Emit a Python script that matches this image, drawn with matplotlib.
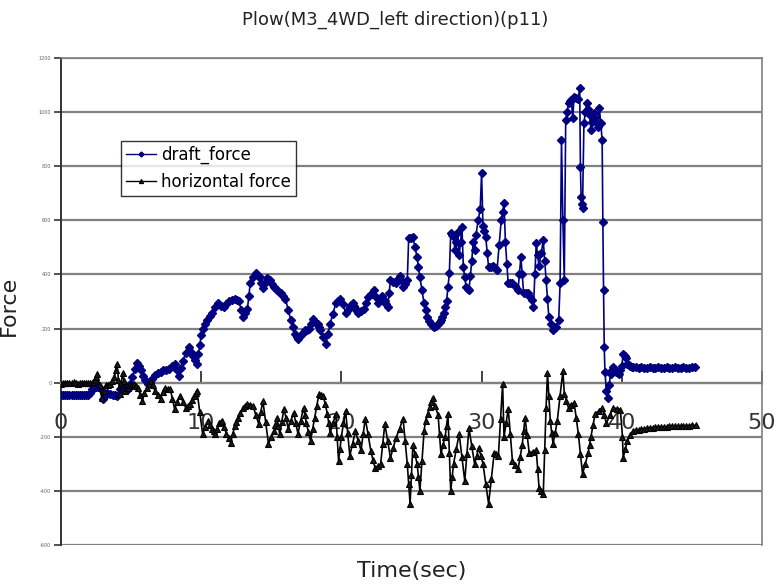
import matplotlib
matplotlib.use("Agg")
import matplotlib.pyplot as plt

# draft force (time in s, force)
draft_t = [0.0, 0.15, 0.3, 0.45, 0.6, 0.75, 0.9, 1.05, 1.2, 1.35, 1.5, 1.65, 1.8,
           1.95, 2.1, 2.2, 2.35, 2.5, 2.65, 2.8, 3.0, 3.15, 3.3, 3.5,
           3.7, 3.85, 4.0, 4.2, 4.35, 4.5, 4.65, 4.8, 4.95, 5.1, 5.25, 5.4, 5.55,
           5.7, 5.85, 6.0, 6.2, 6.35, 6.5, 6.7, 6.9, 7.1, 7.3, 7.5, 7.7, 7.9,
           8.1, 8.25, 8.4, 8.55, 8.7, 8.9, 9.1, 9.25, 9.4, 9.55, 9.7, 9.8, 9.9,
           10.0, 10.1, 10.25, 10.4, 10.6, 10.8, 11.0, 11.2, 11.4, 11.6, 11.8, 12.0,
           12.2, 12.4, 12.55, 12.7, 12.85, 13.0, 13.15, 13.3, 13.4, 13.5, 13.7,
           13.9, 14.05, 14.2, 14.3, 14.4, 14.55, 14.7, 14.8, 14.9, 15.05, 15.2,
           15.3, 15.4, 15.55, 15.7, 15.85, 16.0, 16.2, 16.4, 16.55, 16.7, 16.8,
           16.9, 17.05, 17.2, 17.3, 17.4, 17.55, 17.7, 17.85, 18.0, 18.15, 18.3,
           18.4, 18.5, 18.7, 18.9, 19.05, 19.2, 19.4, 19.6, 19.75, 19.9, 20.1,
           20.3, 20.45, 20.6, 20.7, 20.8, 20.9, 21.0, 21.1, 21.2, 21.4, 21.6,
           21.75, 21.9, 22.1, 22.3, 22.45, 22.6, 22.75, 22.9, 23.0, 23.1, 23.2,
           23.3, 23.4, 23.5, 23.7, 23.9, 24.05, 24.2, 24.3, 24.4, 24.55, 24.7,
           24.8, 24.95, 25.1, 25.25, 25.4, 25.5, 25.6, 25.75, 25.9, 26.0, 26.1,
           26.25, 26.4, 26.5, 26.6, 26.75, 26.9, 27.0, 27.1, 27.2, 27.3, 27.4,
           27.5, 27.6, 27.7, 27.8, 27.9, 28.0, 28.1, 28.2, 28.3, 28.4, 28.5, 28.6,
           28.7, 28.8, 28.9, 29.0, 29.1, 29.2, 29.3, 29.4, 29.5, 29.6, 29.75, 29.9,
           30.0, 30.1, 30.2, 30.3, 30.4, 30.5, 30.65, 30.8, 30.95, 31.1, 31.25,
           31.4, 31.5, 31.6, 31.7, 31.8, 31.9, 32.05, 32.2, 32.4, 32.6, 32.7, 32.8,
           32.9, 33.0, 33.15, 33.3, 33.45, 33.6, 33.7, 33.8, 33.9, 34.0, 34.1,
           34.25, 34.4, 34.5, 34.6, 34.7, 34.8, 34.95, 35.1, 35.3, 35.5, 35.6,
           35.7, 35.8, 35.9, 36.0, 36.1, 36.2, 36.3, 36.4, 36.5, 36.6, 36.75, 36.9,
           37.0, 37.05, 37.1, 37.15, 37.2, 37.3, 37.4, 37.5, 37.6, 37.7, 37.8,
           37.9, 38.0, 38.1, 38.2, 38.3, 38.4, 38.5, 38.6, 38.65, 38.7, 38.75,
           38.8, 38.9, 39.0, 39.1, 39.2, 39.3, 39.4, 39.5, 39.6, 39.7, 39.8, 39.9,
           40.0, 40.1, 40.2, 40.3, 40.4, 40.5, 40.6, 40.7, 40.8, 41.0, 41.2, 41.4,
           41.6, 41.8, 42.0, 42.2, 42.4, 42.6, 42.8, 43.0, 43.2, 43.4, 43.6, 43.8,
           44.0, 44.2, 44.4, 44.6, 44.8, 45.0, 45.2]
draft_f = [-44, -44, -44, -44, -44, -44, -44, -44, -44, -44, -44, -44, -44,
           -44, -40, -25, -18, -15, -17, -20, -59, -50, -40, -43,
           -45, -47, -48, -25, -22, -20, -22, -25, -5, 20, 50, 74, 60,
           45, 25, 10, -4, 5, 15, 28, 37, 40, 45, 48, 52, 60,
           70, 45, 26, 55, 80, 110, 130, 115, 100, 85, 70, 105, 140,
           175, 200, 218, 230, 245, 259, 280, 293, 285, 278, 290, 300,
           305, 311, 306, 300, 270, 241, 258, 274, 320, 367, 390,
           404, 396, 389, 370, 348, 368, 385, 382, 378, 366, 355,
           348, 341, 336, 330, 320, 311, 270, 230, 205, 181, 170,
           163, 172, 180, 187, 193, 196, 200, 218, 237, 226, 215,
           204, 193, 168, 144, 180, 218, 255, 293, 302, 311, 290,
           259, 270, 280, 288, 296, 285, 275, 266, 259, 266, 274,
           295, 315, 328, 341, 318, 296, 308, 320, 310, 300, 290,
           278, 330, 378, 372, 367, 382, 396, 374, 352, 366, 378,
           533, 535, 537, 500, 463, 426, 389, 341, 293, 267, 241,
           228, 215, 209, 204, 211, 218, 224, 230, 243, 256, 278,
           300, 352, 404, 552, 545, 537, 489, 520, 556, 470, 520, 574,
           426, 389, 352, 346, 341, 395, 450, 519, 490, 545, 600, 640,
           774, 580, 560, 537, 480, 426, 428, 430, 422, 415, 510,
           600, 630, 663, 520, 440, 367, 368, 370, 356, 341, 400, 463,
           400, 330, 330, 330, 317, 304, 280, 400, 515, 470, 430,
           478, 526, 450, 380, 310, 241, 217, 193, 205, 230, 367,
           896, 600, 378, 970, 1000, 1033, 1040, 1044, 978, 1056, 1053, 1050,
           1089, 796, 686, 660, 644, 959, 1000, 1033, 1010, 990, 933,
           965, 996, 978, 960, 944, 1015, 960, 896, 593, 341, 130,
           40, -30, -56, -10, 33, 45, 56, 48, 40, 36, 33, 45,
           60, 107, 100, 90, 70, 65, 60, 58, 56, 56, 55, 56,
           55, 55, 56, 55, 55, 56, 55, 55, 56, 55, 55, 56,
           55, 55, 56, 55, 55, 56, 56]

# horizontal force (time in s, force)
horiz_t = [0.0, 0.15, 0.3, 0.45, 0.6, 0.75, 0.9, 1.05, 1.2, 1.35, 1.5, 1.65, 1.8,
           1.95, 2.1, 2.25, 2.4, 2.5, 2.6, 2.75, 2.9, 3.05, 3.2, 3.35, 3.5, 3.65,
           3.8, 3.9, 4.0, 4.1, 4.2, 4.3, 4.4, 4.5, 4.6, 4.75, 4.9, 5.05, 5.2, 5.35,
           5.5, 5.65, 5.8, 5.95, 6.1, 6.25, 6.4, 6.55, 6.7, 6.9, 7.1, 7.25, 7.4,
           7.6, 7.8, 7.95, 8.1, 8.3, 8.5, 8.7, 8.9, 9.05, 9.2, 9.35, 9.5, 9.6,
           9.7, 9.9, 10.1, 10.3, 10.5, 10.65, 10.8, 10.9, 11.0, 11.15, 11.3, 11.4,
           11.5, 11.65, 11.8, 11.95, 12.1, 12.25, 12.4, 12.5, 12.6, 12.8, 13.0,
           13.15, 13.3, 13.5, 13.7, 13.9, 14.1, 14.25, 14.4, 14.6, 14.8, 15.0,
           15.2, 15.3, 15.4, 15.5, 15.6, 15.75, 15.9, 16.05, 16.2, 16.4, 16.6,
           16.75, 16.9, 17.1, 17.3, 17.4, 17.5, 17.65, 17.8, 17.95, 18.1, 18.25,
           18.4, 18.55, 18.7, 18.85, 19.0, 19.1, 19.2, 19.4, 19.6, 19.7, 19.8,
           19.9, 20.0, 20.15, 20.3, 20.45, 20.6, 20.8, 21.0, 21.2, 21.4, 21.55,
           21.7, 21.9, 22.1, 22.25, 22.4, 22.6, 22.8, 22.95, 23.1, 23.3, 23.5,
           23.7, 23.9, 24.15, 24.4, 24.55, 24.7, 24.8, 24.9, 25.0, 25.1, 25.25,
           25.4, 25.5, 25.6, 25.75, 25.9, 26.0, 26.15, 26.3, 26.4, 26.5, 26.7,
           26.9, 27.0, 27.1, 27.25, 27.4, 27.5, 27.6, 27.7, 27.8, 27.9, 28.0,
           28.2, 28.4, 28.6, 28.8, 28.95, 29.1, 29.3, 29.5, 29.65, 29.8, 29.95,
           30.1, 30.3, 30.5, 30.7, 30.9, 31.05, 31.2, 31.35, 31.5, 31.6, 31.75,
           31.9, 32.05, 32.2, 32.4, 32.6, 32.75, 32.9, 33.0, 33.1, 33.25, 33.4,
           33.65, 33.9, 34.0, 34.1, 34.25, 34.4, 34.5, 34.6, 34.7, 34.8, 34.9,
           35.0, 35.1, 35.25, 35.4, 35.6, 35.8, 35.9, 36.05, 36.2, 36.4, 36.6,
           36.75, 36.9, 37.05, 37.2, 37.4, 37.6, 37.7, 37.8, 37.95, 38.1, 38.35,
           38.6, 38.75, 38.9, 39.15, 39.4, 39.65, 39.9, 40.05, 40.1, 40.25, 40.4,
           40.6, 40.8, 41.0, 41.2, 41.4, 41.6, 41.8, 42.0, 42.2, 42.4, 42.6, 42.8,
           43.0, 43.2, 43.4, 43.6, 43.8, 44.0, 44.2, 44.4, 44.6, 44.8, 45.0, 45.3]
horiz_f = [-5, -2, 0, -2, -3, 0, 2, -2, -5, -2, 0, -2, -3,
           -3, -2, 4, 10, 20, 33, -10, -56, -30, -10, -8, -5, 5,
           20, 45, 70, 10, -41, 0, 37, 5, -30, -20, -10, -8, -5, -12,
           -20, -45, -67, -40, -20, -5, 7, -10, -30, -45, -59, -35, -19,
           -22, -25, -60, -96, -70, -48, -70, -93, -85, -78, -64, -50, -40,
           -30, -110, -189, -165, -141, -155, -170, -180, -189, -170, -150, -145,
           -141, -165, -190, -205, -222, -190, -160, -145, -130, -112, -95,
           -86, -78, -82, -85, -120, -152, -110, -67, -145, -226, -200,
           -180, -155, -130, -160, -190, -145, -96, -130, -170, -140, -111,
           -150, -189, -140, -93, -120, -150, -182, -215, -172, -130, -85,
           -41, -45, -48, -80, -115, -150, -185, -150, -115, -200, -289,
           -245, -200, -150, -104, -185, -270, -225, -180, -215, -250, -190,
           -133, -190, -252, -285, -315, -308, -300, -225, -152, -215, -278,
           -240, -204, -170, -133, -215, -300, -375, -448, -340, -230, -265,
           -300, -350, -400, -290, -178, -141, -115, -90, -73, -56, -88,
           -120, -190, -263, -230, -200, -160, -115, -260, -400, -350, -300,
           -245, -189, -275, -363, -265, -167, -235, -300, -270, -241, -270,
           -300, -375, -448, -355, -260, -265, -270, -135, -4, -200, -150,
           -96, -190, -289, -305, -320, -275, -230, -180, -130, -195, -260,
           -255, -250, -320, -389, -400, -411, -250, -93, 37, -50, -140,
           -185, -226, -185, -141, -50, 44, -41, -67, -93, -84, -74,
           -130, -189, -265, -337, -300, -260, -230, -200, -158, -115, -104,
           -93, -120, -150, -120, -93, -96, -100, -200, -278, -245, -215,
           -195, -178, -176, -174, -172, -170, -168, -167, -166, -165, -165, -164,
           -163, -163, -162, -161, -160, -160, -160, -160, -159, -159, -158, -158]

x_ticks = [0, 10, 20, 30, 40, 50]
y_ticks = [-600, -400, -200, 0, 200, 400, 600, 800, 1000, 1200]

fig = plt.figure(figsize=(7.78, 5.87), dpi=100)
ax = fig.add_axes([0.0784, 0.0716, 0.901, 0.8296])

ax.plot(draft_t, draft_f, color="#000080", lw=1.2, marker="D", ms=4.2,
        mfc="#000080", mec="#000080", label="draft_force", zorder=3)
ax.plot(horiz_t, horiz_f, color="black", lw=1.2, marker="^", ms=5.0,
        mfc="#1a1a1a", mec="black", mew=0.8, label="horizontal force", zorder=4)

ax.set_xlim(0, 50)
ax.set_ylim(-600, 1200)
ax.set_xticks(x_ticks)
ax.set_yticks(y_ticks)
ax.set_yticklabels([str(v) for v in y_ticks], fontsize=3.5, color="#666666")

ax.set_axisbelow(True)
ax.yaxis.grid(True, color="#808080", lw=1.6)
ax.spines["bottom"].set_position(("data", 0))
ax.spines["bottom"].set_color("#808080")
ax.spines["bottom"].set_linewidth(1.6)
for s in ("top", "right"):
    ax.spines[s].set_color("#808080")
    ax.spines[s].set_linewidth(1.2)
ax.spines["left"].set_color("#333333")
ax.spines["left"].set_linewidth(1.4)

ax.tick_params(axis="x", direction="in", length=9, width=1.2, color="#222222",
               labelsize=16, labelcolor="#333333", pad=22)
ax.tick_params(axis="y", direction="out", length=5, width=1.2, color="#333333", pad=2)

ax.set_xlabel("Time(sec)", fontsize=16, color="#222222", labelpad=0)
ax.xaxis.set_label_coords(0.5, -0.033)
ax.set_ylabel("Force", fontsize=16, color="#222222")
ax.yaxis.set_label_coords(-0.06, 0.49)

fig.text(0.508, 0.966, "Plow(M3_4WD_left direction)(p11)", ha="center", va="center",
         fontsize=13, color="#222222")

leg = ax.legend(loc="upper left", bbox_to_anchor=(0.086, 0.83), fontsize=12,
                frameon=True, fancybox=False, handlelength=1.8, handletextpad=0.3,
                borderpad=0.3, labelspacing=0.55, borderaxespad=0, markerscale=0.6)
leg.get_frame().set_edgecolor("black")
leg.get_frame().set_linewidth(1.0)
for h in leg.get_lines():
    h.set_linewidth(1.0)

fig.savefig("out.png", dpi=100)
